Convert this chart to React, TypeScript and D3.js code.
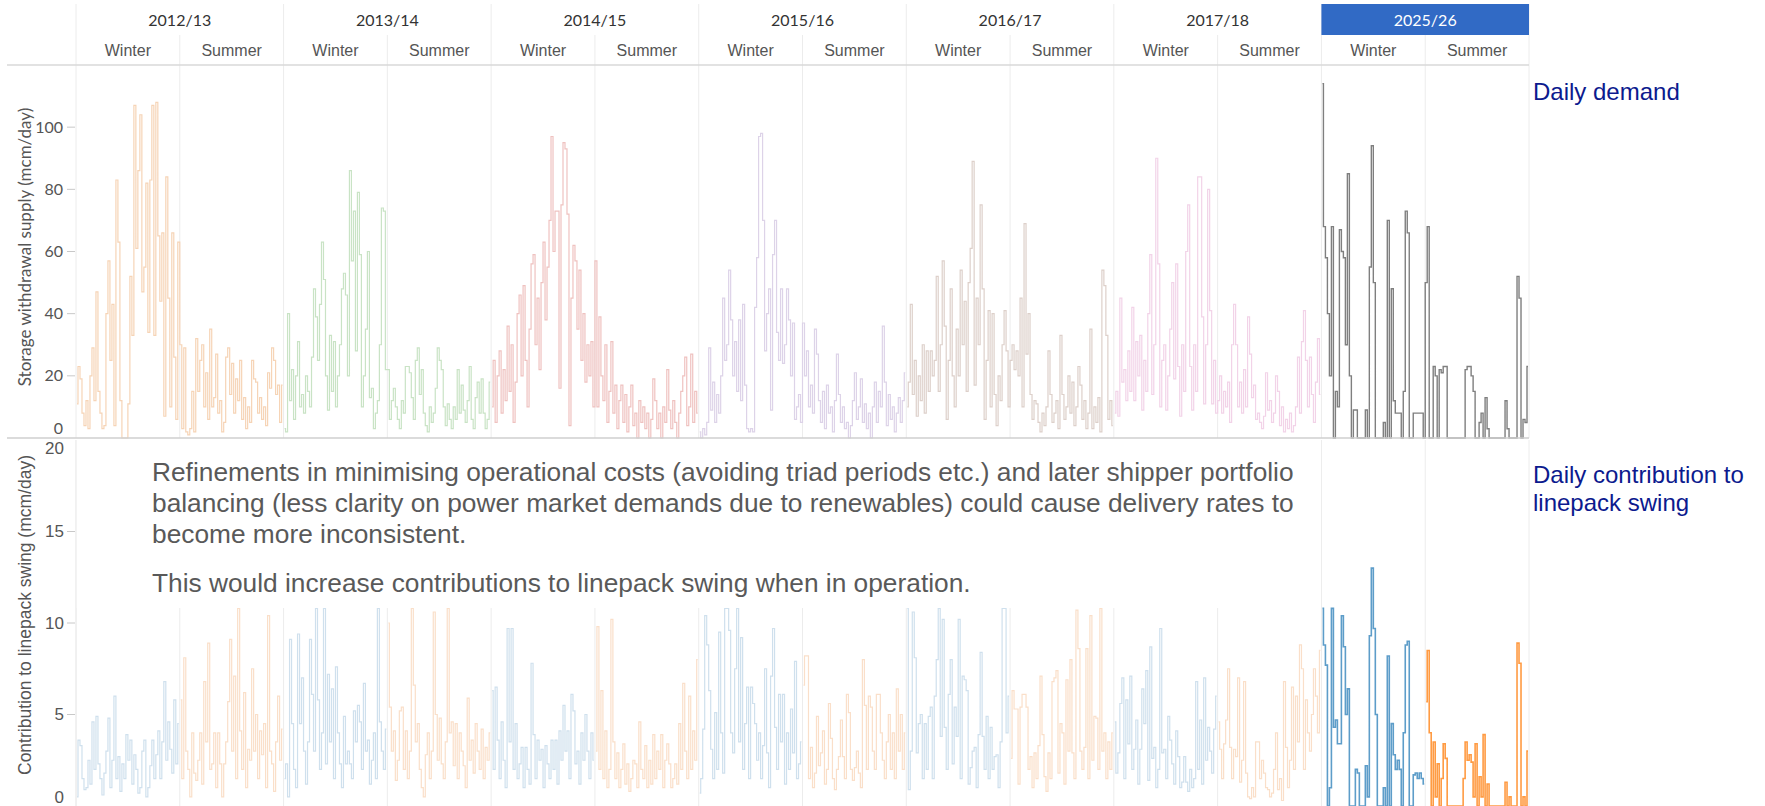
import React from "react";
import * as d3 from "d3";

const years = ["2012/13", "2013/14", "2014/15", "2015/16", "2016/17", "2017/18", "2025/26"];
const seasons = ["Winter", "Summer"];
const storageTicks = [0, 20, 40, 60, 80, 100];
const swingTicks = [0, 5, 10, 15, 20];

// Storage withdrawal supply (mcm/day), sampled through each season
const storage1213Winter = [11,23,19,8,4,12,3,20,29,12, 47,15,8,3,4,40,57,25,43,4, 83,63,12,0,0,0,11,52,33,107, 61,86,104,47,55,82,34,83,107,33, 108,65,44,66,7,84,45,10,66,26, 6,63];
const storage1213Summer = [30,3,29,2,1,3,15,2,32,15, 25,30,10,21,6,35,10,13,27,8, 12,2,5,26,29,14,24,8,19,12, 25,6,13,3,10,5,25,19,18,8, 13,6,10,4,21,16,29,25,14,17, 5,17];
const storage1314Winter = [3,2,40,12,22,6,20,31,10,14, 8,20,15,10,26,48,39,25,43,63, 51,20,9,33,15,31,10,20,30,48, 53,46,20,86,57,73,28,79,59,10, 20,35,60,13,16,3,8,12,30,74, 73,22];
const storage1314Summer = [22,6,12,16,10,6,3,12,8,23, 23,21,13,6,25,29,14,22,8,4, 2,10,5,8,16,29,25,22,10,4, 11,6,3,10,6,22,8,17,9,5, 12,23,6,3,13,18,8,19,8,3, 6,18];
const storage1415Winter = [10,25,5,20,28,8,22,12,36,15, 30,5,18,40,46,20,49,25,10,35, 56,59,30,45,22,50,63,38,55,70, 97,60,73,73,16,75,95,93,72,4, 45,62,57,35,54,25,40,18,30,20, 31,10];
const storage1415Summer = [57,10,39,20,12,30,5,15,31,8, 17,3,12,17,5,14,2,10,17,4, 8,0,12,5,10,3,8,0,6,19, 12,3,8,0,10,5,22,9,3,12, 5,0,8,15,20,26,4,10,27,5, 15,8];
const storage1516Winter = [2,0,3,1,5,29,9,18,5,14, 8,20,45,25,30,54,38,20,31,15, 38,12,43,17,3,2,3,2,42,58, 97,98,70,28,40,48,9,59,70,34, 25,48,24,30,48,38,20,37,6,10, 14,5];
const storage1516Summer = [37,20,28,10,17,8,35,27,12,5, 15,3,17,8,10,2,12,27,14,5, 10,3,5,0,4,12,21,6,10,19, 5,11,3,8,0,10,18,5,15,10, 36,18,4,14,6,10,2,8,13,5, 12,21];
const storage1617Winter = [10,18,43,14,25,7,20,12,30,8, 28,15,28,20,25,52,15,30,57,36, 6,25,48,20,10,35,20,54,30,44, 15,50,61,89,17,45,30,75,48,6, 25,41,10,40,14,4,20,12,30,41, 28,10];
const storage1617Summer = [25,30,22,28,20,45,10,69,27,40, 14,6,12,11,5,2,8,4,10,28, 14,5,8,12,3,33,14,6,10,20, 8,18,4,10,23,17,6,12,3,8, 35,3,10,5,13,2,54,49,33,6, 12,4];
const storage1718Winter = [8,15,7,45,18,22,12,28,15,42, 12,31,20,33,9,25,15,40,59,14, 30,90,56,10,25,30,9,20,35,50, 19,56,23,7,30,15,60,75,23,9, 30,15,84,84,39,11,30,80,41,11, 25,8];
const storage1718Summer = [12,20,8,15,10,18,5,30,43,30, 10,18,8,22,10,39,27,13,17,6, 8,5,3,7,21,9,12,5,8,20, 15,4,10,2,6,3,8,2,4,10, 26,8,31,41,25,10,26,14,5,18, 32,14];
const storage2526Winter = [114,68,58,40,20,68,0,15,10,67, 60,58,30,85,20,0,9,9,0,0, 0,0,9,0,55,94,50,0,0,0, 0,5,0,70,0,48,12,8,8,8, 0,15,73,66,0,0,8,8,8,8, 8,0];
const storage2526Summer = [50,68,0,0,23,20,0,22,21,23, 23,0,0,0,0,0,0,0,0,0, 22,23,23,20,15,0,0,5,8,0, 13,3,0,0,0,0,0,0,0,0, 12,3,0,0,0,0,52,45,0,6, 5,23];

// Contribution to linepack swing (mcm/day)
const swing1213Winter = [0.5,3.6,3.3,1.5,0.9,1,2.5,1.2,4.6,2, 4.9,2.3,1.5,0.6,1.8,3,4.8,1,2.5,6, 1.5,2.7,0.8,2.3,1.5,3.9,2.5,3.6,1.2,2.8, 2,0.7,1,3,3.6,0.5,1,2.2,3.6,1.5, 2.8,4.1,1.5,3.5,6.8,2.5,4.6,3.1,1.8,5.8, 2.3,4.5];
const swing1213Summer = [5.8,1.5,8.1,3,2,0.5,4,1.8,1.4,2.5, 4,1.2,6.8,3.5,8.9,2,2.3,4,1,4, 2.3,0.5,2.3,3.5,5.7,9.1,3,7.1,1.5,10.8, 4.1,2,6.2,1,3.1,2.5,7.5,3,5,1.5, 4.1,2.8,4.5,1,10.4,3,2.3,0.8,3.5,6, 2.5,4.2];
const swing1314Winter = [1.5,2.3,0.5,9.1,4.5,2,1,9.4,4.5,7, 3,1.2,3.5,9.1,6.1,3,10.8,5.8,2,4, 10.8,2.3,7.2,3.5,6.4,1.5,7.6,4,2.3,1, 4.9,2.3,3,2.3,1.5,5.2,3.5,5.5,4.6,2, 6.7,3,3.6,1.2,2.5,4,1.5,10.8,4.6,3, 2,4.2];
const swing1314Summer = [10,5.4,3,4.1,1.4,2.5,5.2,5.4,2,4.1, 1.5,3,10.8,6.6,3.5,4.5,2,1,0.5,2.8, 4,1.5,3,10.6,5,2.5,4.8,2.3,1.5,3.5, 10.8,4,4.6,2.2,4.5,1.5,4,3,2.2,1, 5.9,2.5,3.6,1.8,4.5,3,2,4.2,1.5,3.2, 2.5,4];
const swing1415Winter = [6.3,2,6.5,3.6,1.5,4.6,2.5,1,9.7,3.5, 9.7,2,4.5,1.5,2.3,3.2,1,3.2,2,1.2, 7.8,3.9,1.5,3.6,2.5,3.1,1,3.3,2.3,1.5, 3.6,2,3.6,1.2,4.1,2.5,5.5,3,4.1,1.5, 6.1,5.2,2.3,3,1.2,4,2.5,5,3,1.5, 4,2.5];
const swing1415Summer = [3,9.8,2,6.3,1.5,4.1,1,2,10.2,3.5, 1.5,2.9,1,2,3.4,1.2,2.3,0.8,1.5,2.5, 2.3,1,4.6,2,1.5,3.3,1,2.5,1.2,3.9, 1.5,3,2,3.9,1,2.5,3.4,2.3,1,1.5, 2.3,1.2,4.5,2,6.7,3,1.5,6,2,4.1, 2.5,8];
const swing1516Winter = [0.7,1.5,4.2,10.4,8.8,6.3,3.1,1.5,5.1,2, 9.5,4,1.8,10.8,10.8,9.6,4,2.9,7.5,10.8, 3.5,9.2,2,4.5,6.5,1.5,6.5,5.6,4.5,2.5, 4,1.5,3.3,7.5,2.9,1,7.1,9.7,4.3,2, 6.1,3.5,6.1,1.2,4,2,5.3,2.9,7.9,1.5, 2.3,3.5];
const swing1516Summer = [6.6,8.2,8.2,1.5,3.2,1,1.8,4.9,2.2,2.9, 4.1,1.2,2,5.6,3.7,1.5,0.9,2,2.7,4.7, 2.7,1.5,6.1,5.1,2,1.4,2.1,3,1.8,1, 8,5.5,2,6,5.4,3,2,6.1,6.1,4, 2.5,1.5,3.5,5,2,4,1.5,6.4,3,5, 2,4];
const swing1617Winter = [10.8,0.9,3,10.6,8.1,2.9,4.5,5,1.5,4.5, 2,4.9,5.4,1.5,6,8,10.8,3.8,10.2,4.3, 2,6.1,8,2.3,5.4,3.8,10.2,1.5,7.1,6.9, 6.3,1.2,2.1,3,3.2,1,3.9,8.4,3.8,2, 4.9,1.5,4.3,2,2.7,2.8,1,3.5,10.8,10.8, 4,6];
const swing1617Summer = [2.6,6.3,5.3,5.3,1.2,5.4,6.1,6.1,5.4,2, 2.7,1,2.9,1.5,3.3,7.1,3.9,1.6,0.8,2.9, 1.5,6.8,7,7.4,1.8,4.5,4,1.2,6.9,3, 8,2.9,1.5,10.7,8.6,3,2,3.2,8.6,1.5, 10.4,2.5,4.9,4.8,2,10.8,3,4,1.5,3.5, 2,4];
const swing1718Winter = [4.6,1.8,2.9,5.6,7,1.5,5.8,3.4,7.1,2, 3.1,4.7,1.2,3.1,6.4,4.5,7.4,1.4,8.7,2.6, 3.2,1,2,9.7,2.9,3.1,1.5,4.9,3.6,2.3, 1.2,4.1,2.7,1,1.3,2.7,1.3,0.8,2,1, 1.5,6.8,2,4.7,1.2,7,2.5,4.3,3,1.8, 4.2,6];
const swing1718Summer = [4.6,3.1,1.5,3.4,4.7,7.5,3.2,1.5,3.1,2.7, 7,1.3,2.5,6.8,1.8,0.5,0.4,1,0.5,3.5, 3.5,1.5,2.5,1.8,1,0.9,0.5,0.7,2,4, 0.9,1.5,0.3,6.8,3.2,1,2.5,6.5,2,6, 3.5,8.8,7.5,2,5.8,4,3,5,7.5,6, 4,8.5];
const swing2526Winter = [10.8,8.8,7.7,0,1,10.8,4.3,4.7,3.4,3.4, 10.4,8.7,5,6.4,0,0,0,2,1.8,0, 0,0,2.2,0.5,9.3,13,9.7,5,0,0, 0,1,0,8.2,0,4.5,2.8,2,2.5,2, 0,4,8.8,9,0,0,1.7,1.8,1.5,1.8, 1.5,1.2];
const swing2526Summer = [5.7,8.5,4,0,3.5,0.5,2.3,0,1.5,3.4, 2.6,0,0,0,0,0,0,0,0,1.5, 3.5,2.5,2.8,2.4,0.5,3.4,0,1.6,0.5,3.9, 0,1.2,0,0,0,0,0,0,0,0, 1.3,0,0.5,0,0,0,8.9,7.8,0,0.5, 0,3];

const storageByYear = [
  [storage1213Winter, storage1213Summer],
  [storage1314Winter, storage1314Summer],
  [storage1415Winter, storage1415Summer],
  [storage1516Winter, storage1516Summer],
  [storage1617Winter, storage1617Summer],
  [storage1718Winter, storage1718Summer],
  [storage2526Winter, storage2526Summer],
];
const swingByYear = [
  [swing1213Winter, swing1213Summer],
  [swing1314Winter, swing1314Summer],
  [swing1415Winter, swing1415Summer],
  [swing1516Winter, swing1516Summer],
  [swing1617Winter, swing1617Summer],
  [swing1718Winter, swing1718Summer],
  [swing2526Winter, swing2526Summer],
];

const yearColors = ["#f6d4b6", "#c9e3c5", "#efc2c0", "#ddd3e8", "#ddd0ca", "#f2d3e8", "#7f7f7f"];
const swingPast = ["#cfe0ed", "#fadfc9"];
const swingNow = ["#1f77b4", "#ff7f0e"];

const annotation = [
  "Refinements in minimising operational costs (avoiding triad periods etc.) and later shipper portfolio",
  "balancing (less clarity on power market demands due to renewables) could cause delivery rates to",
  "become more inconsistent.",
];
const annotation2 = "This would increase contributions to linepack swing when in operation.";

export default function App() {
  const x = d3.scaleLinear().domain([0, 14]).range([76, 1529]);
  const yTop = d3.scaleLinear().domain([0, 120]).range([438, 65]);
  const yBot = d3.scaleLinear().domain([0, 20]).range([806, 440]);

  const pts = (vals: number[], k: number) =>
    vals.map((v, i) => [x(k + (i + 0.5) / vals.length), v] as [number, number]);
  const lineTop = d3.line<[number, number]>().x((d) => d[0]).y((d) => yTop(d[1])).curve(d3.curveStep);
  const lineBot = d3.line<[number, number]>().x((d) => d[0]).y((d) => yBot(d[1])).curve(d3.curveStep);

  const sans = "'Liberation Sans', Arial, sans-serif";
  const tab = "Lato, 'Open Sans', sans-serif";
  const bounds = d3.range(15);
  const last = years.length - 1;

  return (
    <svg width={1765} height={806} style={{ position: "absolute", left: 0, top: 0, display: "block", background: "#fff" }}>
      {/* header dividers + top gridlines */}
      {bounds.map((k) => (
        <line key={"h" + k} x1={x(k)} x2={x(k)} y1={k % 2 === 0 ? 4 : 35} y2={438} stroke="#ececec" strokeWidth={1} />
      ))}
      {years.map((yr, j) => {
        const x0 = x(2 * j), x1 = x(2 * j + 2);
        const cur = j === last;
        return (
          <g key={yr}>
            {cur && <rect x={x0} y={4} width={x1 - x0} height={31} fill="#316ac5" />}
            <text x={(x0 + x1) / 2} y={20} dy="0.35em" textAnchor="middle" fontFamily={tab} fontSize={16} fill={cur ? "#fff" : "#333"}>{yr}</text>
            {seasons.map((s, si) => (
              <text key={s} x={(x(2 * j + si) + x(2 * j + si + 1)) / 2} y={50} dy="0.35em" textAnchor="middle" fontFamily={sans} fontSize={16} fill="#555">{s}</text>
            ))}
          </g>
        );
      })}
      <line x1={7} x2={1529} y1={65} y2={65} stroke="#d8d8d8" strokeWidth={1.5} />

      {/* top chart lines */}
      {storageByYear.map((ys, j) => {
        const data = [...pts(ys[0], 2 * j), ...pts(ys[1], 2 * j + 1)];
        return (
          <path key={"s" + j} d={lineTop(data) || ""} fill="none" stroke={yearColors[j]} strokeWidth={j === last ? 1.4 : 1.2} />
        );
      })}
      <line x1={7} x2={1529} y1={438} y2={438} stroke="#cfcfcf" strokeWidth={1.5} />
      {storageTicks.map((t) => (
        <g key={"tt" + t}>
          {t > 0 && <line x1={67} x2={75} y1={yTop(t)} y2={yTop(t)} stroke="#c8c8c8" />}
          <text x={63} y={Math.min(yTop(t), 428)} dy="0.35em" textAnchor="end" fontFamily={tab} fontSize={16} fill="#555">{t}</text>
        </g>
      ))}
      <text transform="translate(25,247) rotate(-90)" dy="0.35em" textAnchor="middle" fontFamily={tab} fontSize={17} fill="#555">Storage withdrawal supply (mcm/day)</text>

      {/* bottom chart gridlines */}
      {bounds.map((k) => (
        <line key={"b" + k} x1={x(k)} x2={x(k)} y1={k === 0 || k >= 12 ? 440 : 608} y2={806} stroke="#ececec" />
      ))}
      {swingByYear.map((ys, j) =>
        ys.map((vals, si) => (
          <path key={"w" + j + si} d={lineBot(pts(vals, 2 * j + si)) || ""} fill="none"
            stroke={j === last ? swingNow[si] : swingPast[si]} strokeOpacity={j === last ? (si === 0 ? 0.72 : 0.78) : 1}
            strokeWidth={j === last ? 1.6 : 1.2} />
        ))
      )}
      <rect x={x(0) + 0.5} y={440} width={x(12) - x(0) - 1} height={168} fill="#fff" />
      <line x1={x(0)} x2={x(0)} y1={440} y2={806} stroke="#ececec" />
      {swingTicks.map((t) => (
        <g key={"bt" + t}>
          {t > 0 && t < 20 && <line x1={67} x2={75} y1={yBot(t)} y2={yBot(t)} stroke="#c8c8c8" />}
          <text x={64} y={Math.max(Math.min(yBot(t), 797), 448)} dy="0.35em" textAnchor="end" fontFamily={sans} fontSize={17} fill="#555">{t}</text>
        </g>
      ))}
      <text transform="translate(25,615) rotate(-90)" dy="0.35em" textAnchor="middle" fontFamily={sans} fontSize={17.5} fill="#555">Contribution to linepack swing (mcm/day)</text>

      {/* annotation */}
      {annotation.map((l, i) => (
        <text key={"a" + i} x={152} y={472 + i * 31} dy="0.35em" fontFamily={sans} fontSize={26.3} fill="#595959">{l}</text>
      ))}
      <text x={152} y={583} dy="0.35em" fontFamily={sans} fontSize={26.3} fill="#595959">{annotation2}</text>

      {/* right labels */}
      <text x={1533} y={92} dy="0.35em" fontFamily={sans} fontSize={24} fill="#0c1a8e">Daily demand</text>
      <text x={1533} y={475} dy="0.35em" fontFamily={sans} fontSize={24} fill="#0c1a8e">Daily contribution to</text>
      <text x={1533} y={503} dy="0.35em" fontFamily={sans} fontSize={24} fill="#0c1a8e">linepack swing</text>
    </svg>
  );
}
